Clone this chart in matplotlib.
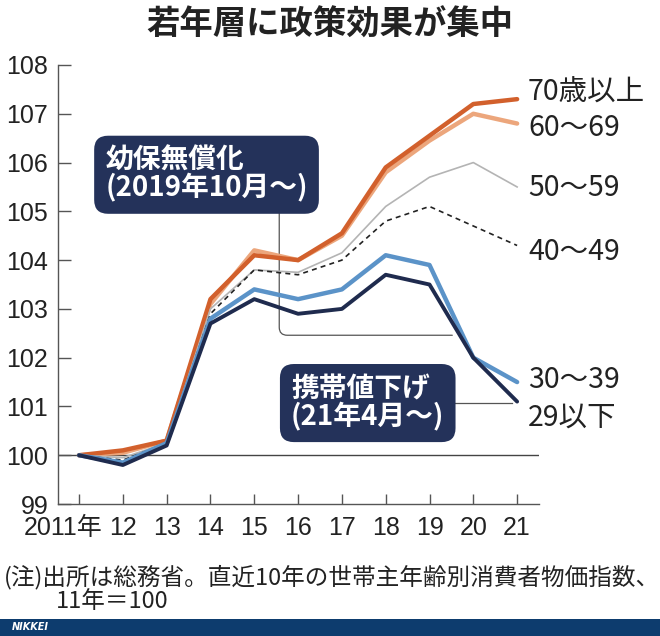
import matplotlib
matplotlib.use("Agg")
import matplotlib.pyplot as plt
from matplotlib.patches import Rectangle
from matplotlib.transforms import ScaledTranslation

plt.rcParams['font.family'] = ['Noto Sans CJK JP', 'DejaVu Sans']

# data: consumer price index by age of household head, 2011 = 100
years = [2011, 2012, 2013, 2014, 2015, 2016, 2017, 2018, 2019, 2020, 2021]
age_70 = [100, 100.1, 100.3, 103.2, 104.1, 104.0, 104.55, 105.9, 106.55, 107.2, 107.3]
age_60 = [100, 100.05, 100.3, 103.1, 104.2, 104.0, 104.5, 105.8, 106.45, 107.0, 106.8]
age_50 = [100, 99.95, 100.25, 103.0, 103.8, 103.75, 104.15, 105.1, 105.7, 106.0, 105.5]
age_40 = [100, 99.9, 100.25, 102.9, 103.8, 103.7, 104.0, 104.8, 105.1, 104.7, 104.3]
age_30 = [100, 99.85, 100.25, 102.8, 103.4, 103.2, 103.4, 104.1, 103.9, 102.0, 101.5]
age_29 = [100, 99.8, 100.2, 102.7, 103.2, 102.9, 103.0, 103.7, 103.5, 102.0, 101.1]

series_labels = ['70歳以上', '60～69', '50～59', '40～49', '30～39', '29以下']
label_y = [107.44, 106.7, 105.47, 104.16, 101.54, 100.78]

xtick_labels = ['2011年', '12', '13', '14', '15', '16', '17', '18', '19', '20', '21']
yticks = [99, 100, 101, 102, 103, 104, 105, 106, 107, 108]

narrow = ['Liberation Sans', 'Noto Sans CJK JP']
txt = '#222222'
navy_box = '#24325a'

fig = plt.figure(figsize=(6.6, 6.36), dpi=100)
ax = fig.add_axes([0.0879, 0.2075, 0.7288, 0.6903])

ax.axhline(100, color='#444444', lw=1.0, zorder=1)

ax.plot(years, age_60, color='#eca67c', lw=3.2, zorder=3, solid_capstyle='round')
ax.plot(years, age_70, color='#d2602c', lw=3.2, zorder=4, solid_capstyle='round')
ax.plot(years, age_50, color='#b4b4b4', lw=1.2, zorder=5)
ax.plot(years, age_40, color='#222222', lw=1.2, ls=(0, (3, 2.5)), zorder=6)
ax.plot(years, age_30, color='#5b93c8', lw=3.2, zorder=7, solid_capstyle='round')
ax.plot(years, age_29, color='#1f2b4e', lw=2.8, zorder=8, solid_capstyle='round')

for lab, yy in zip(series_labels, label_y):
    ax.text(2021.25, yy, lab, fontsize=20.5, color=txt, ha='left', va='center',
            clip_on=False)

ax.set_xlim(2010.52, 2021.5)
ax.set_ylim(99, 108)
ax.set_xticks(years)
ax.set_xticklabels([])
ax.set_yticks(yticks)
ax.set_yticklabels([str(v) for v in yticks])
ax.tick_params(axis='y', direction='in', length=9, width=1, color='#555555', pad=7,
               labelsize=18, labelcolor=txt, labelfontfamily='Liberation Sans')
ax.tick_params(axis='x', direction='in', length=7, width=1, color='#555555')

# year labels; the first one sits left of its tick, as in the original
xaxis_tr = ax.get_xaxis_transform()
for i, (yr, lab) in enumerate(zip(years, xtick_labels)):
    tr = xaxis_tr
    if i == 0:
        tr = xaxis_tr + ScaledTranslation(-0.155, 0, fig.dpi_scale_trans)
    ax.text(yr, -0.027, lab, transform=tr, fontsize=18, color=txt, family=narrow,
            ha='center', va='top', clip_on=False)

for s in ['top', 'right']:
    ax.spines[s].set_visible(False)
for s in ['left', 'bottom']:
    ax.spines[s].set_color('#555555')
    ax.spines[s].set_linewidth(1.0)

# annotation boxes
ax.annotate('', xy=(2019.52, 102.46), xytext=(2015.57, 105.02),
            arrowprops=dict(arrowstyle='-', color='#555555', lw=0.9,
                            shrinkA=0, shrinkB=0,
                            connectionstyle='angle,angleA=-90,angleB=0,rad=8'),
            zorder=2)
ax.text(2013.91, 105.75, '幼保無償化\n(2019年10月～)', fontsize=20, fontweight='bold',
        color='white', ha='center', va='center', multialignment='left',
        linespacing=0.95, zorder=10,
        bbox=dict(boxstyle='round,pad=0.4,rounding_size=0.5', fc=navy_box, ec='none'))

ax.plot([2019.3, 2020.89], [101.07, 101.07], color='#555555', lw=0.9, zorder=2)
ax.text(2017.59, 101.07, '携帯値下げ\n(21年4月～)', fontsize=20, fontweight='bold',
        color='white', ha='center', va='center', multialignment='left',
        linespacing=0.95, zorder=10,
        bbox=dict(boxstyle='round,pad=0.4,rounding_size=0.5', fc=navy_box, ec='none'))

fig.text(0.5, 0.961, '若年層に政策効果が集中', fontsize=24, fontweight='bold',
         color=txt, ha='center', va='center')

fig.text(0.006, 0.093, '(注)出所は総務省。直近10年の世帯主年齢別消費者物価指数、',
         fontsize=17, color=txt, ha='left', va='center')
fig.text(0.084, 0.055, '11年＝100', fontsize=17, color=txt, ha='left', va='center')

fig.patches.append(Rectangle((0, 0), 1, 0.027, transform=fig.transFigure,
                             facecolor='#0d3c6e', edgecolor='none'))
fig.text(0.018, 0.0135, 'NIKKEI', fontsize=7, fontweight='bold', style='italic',
         color='white', ha='left', va='center', family='DejaVu Sans')

fig.savefig('out.png', dpi=100, facecolor='white')
